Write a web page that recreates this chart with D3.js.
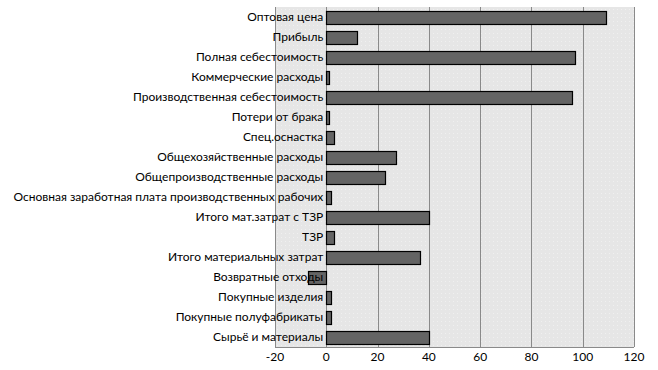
<!DOCTYPE html>
<html>
<head>
<meta charset="utf-8">
<script src="https://cdn.jsdelivr.net/npm/d3@7"></script>
<style>
body { margin: 0; background: #fff; }
text { font-family: Lato, "DejaVu Sans", sans-serif; }
</style>
</head>
<body>
<script>
let width = 658,
    height = 370;

let margin = {top: 7, right: 24, bottom: 23, left: 275};

// categories, top to bottom
let categories = ["Оптовая цена", "Прибыль", "Полная себестоимость", "Коммерческие расходы",
                  "Производственная себестоимость", "Потери от брака", "Спец.оснастка",
                  "Общехозяйственные расходы", "Общепроизводственные расходы",
                  "Основная заработная плата производственных рабочих", "Итого мат.затрат с ТЗР",
                  "ТЗР", "Итого материальных затрат", "Возвратные отходы", "Покупные изделия",
                  "Покупные полуфабрикаты", "Сырьё и материалы"];
let values = [109, 12, 97, 1.2, 96, 1.2, 3, 27.2, 23.2, 2, 40, 3, 36.7, -7, 2, 2, 40];
let ticks = [-20, 0, 20, 40, 60, 80, 100, 120];

let svg = d3.select("body")
            .append("svg")
            .attr("width", width)
            .attr("height", height);

let defs = svg.append("defs");
let pat = defs.append("pattern")
              .attr("id", "dots")
              .attr("width", 4)
              .attr("height", 4)
              .attr("patternUnits", "userSpaceOnUse");
pat.append("rect").attr("width", 4).attr("height", 4).attr("fill", "#e6e6e6");
pat.append("rect").attr("x", 1).attr("y", 1).attr("width", 1).attr("height", 1).attr("fill", "#f0f0f0");

let xScale = d3.scaleLinear()
               .domain([-20, 120])
               .range([margin.left, width - margin.right]);

let yScale = d3.scaleBand()
               .domain(categories)
               .range([margin.top, height - margin.bottom])
               .paddingInner(0.35)
               .paddingOuter(0.175);

// plot background
svg.append("rect")
   .attr("x", xScale(-20))
   .attr("y", margin.top)
   .attr("width", xScale(120) - xScale(-20))
   .attr("height", height - margin.bottom - margin.top)
   .attr("fill", "url(#dots)");

// gridlines
svg.append("g")
   .selectAll("line")
   .data(ticks)
   .enter()
   .append("line")
   .attr("x1", d => Math.round(xScale(d)) + 0.5)
   .attr("x2", d => Math.round(xScale(d)) + 0.5)
   .attr("y1", margin.top)
   .attr("y2", height - margin.bottom)
   .attr("stroke", "#8a8a8a")
   .attr("stroke-width", 1);

svg.append("line")
   .attr("x1", xScale(-20))
   .attr("x2", xScale(120))
   .attr("y1", height - margin.bottom + 0.5)
   .attr("y2", height - margin.bottom + 0.5)
   .attr("stroke", "#8a8a8a");

// bars
svg.append("g")
   .selectAll("rect")
   .data(values)
   .enter()
   .append("rect")
   .attr("x", d => Math.round(xScale(Math.min(0, d))) + 0.5)
   .attr("y", (d, i) => Math.round(yScale(categories[i])) + 0.5)
   .attr("width", d => Math.round(Math.abs(xScale(d) - xScale(0))))
   .attr("height", Math.round(yScale.bandwidth()))
   .attr("fill", "#646464")
   .attr("stroke", "#000")
   .attr("stroke-width", 1.2);

// category labels
svg.append("g")
   .selectAll("text")
   .data(categories)
   .enter()
   .append("text")
   .attr("x", xScale(0) - 3)
   .attr("y", d => yScale(d) + yScale.bandwidth() / 2)
   .attr("dy", "0.35em")
   .attr("text-anchor", "end")
   .attr("font-size", 12)
   .attr("fill", "#000")
   .text(d => d);

// x axis labels
svg.append("g")
   .selectAll("text")
   .data(ticks)
   .enter()
   .append("text")
   .attr("x", d => xScale(d))
   .attr("y", height - margin.bottom + 14)
   .attr("text-anchor", "middle")
   .attr("font-size", 12)
   .attr("fill", "#000")
   .text(d => d);
</script>
</body>
</html>
